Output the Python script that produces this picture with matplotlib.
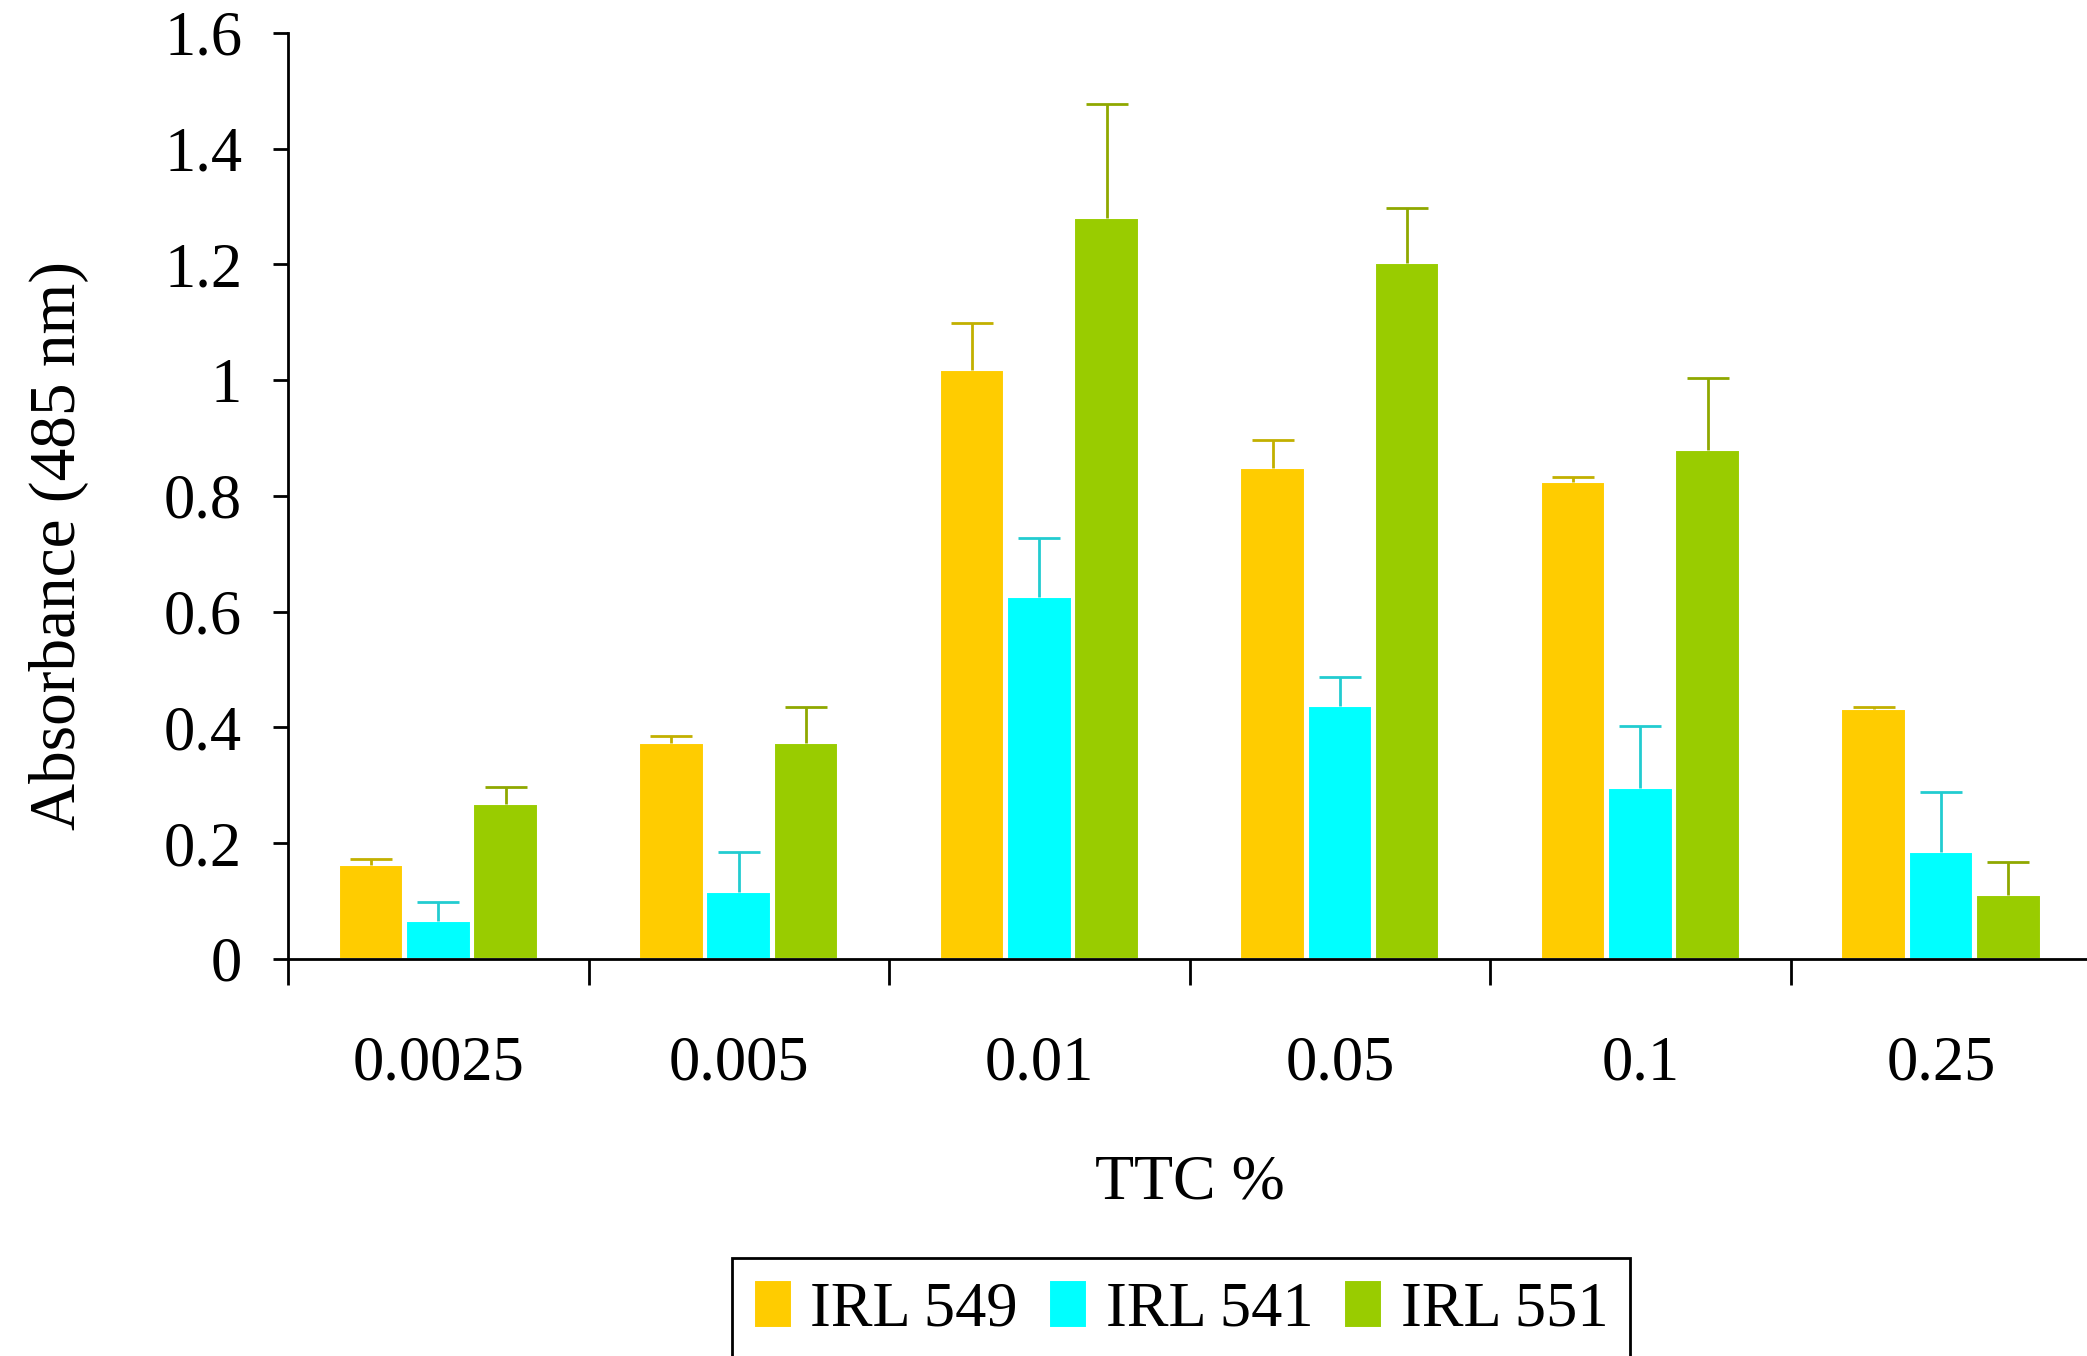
import numpy as np
import matplotlib
matplotlib.use("Agg")
import matplotlib.pyplot as plt
from matplotlib.ticker import FixedLocator, NullFormatter

plt.rcParams['font.family'] = ['Liberation Serif', 'DejaVu Serif']

# TTC concentrations and absorbance at 485 nm for the three strains
categories = ['0.0025', '0.005', '0.01', '0.05', '0.1', '0.25']
irl549 = [0.162, 0.373, 1.017, 0.848, 0.824, 0.432]
irl549_err = [0.011, 0.013, 0.081, 0.048, 0.008, 0.004]
irl541 = [0.065, 0.116, 0.626, 0.437, 0.295, 0.184]
irl541_err = [0.034, 0.068, 0.101, 0.051, 0.108, 0.104]
irl551 = [0.267, 0.373, 1.280, 1.202, 0.880, 0.110]
irl551_err = [0.030, 0.062, 0.197, 0.096, 0.123, 0.057]

series = [
    ('IRL 549', irl549, irl549_err, '#FFCC00', '#C2B000'),
    ('IRL 541', irl541, irl541_err, '#00FFFF', '#22CCD0'),
    ('IRL 551', irl551, irl551_err, '#99CC00', '#8FA800'),
]

fig = plt.figure(figsize=(20.87, 13.56), dpi=100)
ax = fig.add_axes([0.138, 0.2928, 0.864, 0.6829])

x = np.arange(len(categories))
width = 0.215
offsets = [-0.224, 0.0, 0.224]

for (name, vals, errs, col, ecol), off in zip(series, offsets):
    ax.bar(x + off, vals, width, color=col, edgecolor='white', linewidth=1.5,
           label=name, zorder=2)
    eb = ax.errorbar(x + off, vals, yerr=[np.zeros(len(errs)), errs], fmt='none',
                     ecolor=ecol, elinewidth=2, capsize=15, capthick=2, zorder=3)
    # only the upper cap is shown
    for cap in eb[1]:
        if np.allclose(cap.get_ydata(), vals):
            cap.set_visible(False)

ax.set_xlim(-0.5, 5.5)
ax.set_ylim(0, 1.6)
ax.set_yticks(np.arange(0, 1.61, 0.2))
ax.set_yticklabels(['0', '0.2', '0.4', '0.6', '0.8', '1', '1.2', '1.4', '1.6'])

# group boundary ticks (major) and centred labels (minor)
ax.xaxis.set_major_locator(FixedLocator(np.arange(-0.5, 6.0, 1.0)))
ax.xaxis.set_major_formatter(NullFormatter())
ax.xaxis.set_minor_locator(FixedLocator(x))
ax.set_xticklabels(categories, minor=True)
ax.tick_params(axis='x', which='major', direction='out', length=19, width=2)
ax.tick_params(axis='x', which='minor', length=0, pad=55, labelsize=45)
ax.tick_params(axis='y', direction='out', length=11, width=2, pad=22, labelsize=45)

for s in ['top', 'right']:
    ax.spines[s].set_visible(False)
for s in ['left', 'bottom']:
    ax.spines[s].set_linewidth(2)

ax.set_ylabel('Absorbance (485 nm)', fontsize=47)
ax.yaxis.set_label_coords(-0.1104, 0.446)
ax.set_xlabel('TTC %', fontsize=46, labelpad=44)

leg = ax.legend(loc='upper center', bbox_to_anchor=(0.566, 0.0723),
                bbox_transform=fig.transFigure, ncol=3, fontsize=45,
                fancybox=False, edgecolor='black', framealpha=1,
                handlelength=0.6, handleheight=0.8, handletextpad=0.3,
                columnspacing=0.5, borderpad=0.35, borderaxespad=0)
leg.get_frame().set_linewidth(2)

fig.savefig('out.png', dpi=100)
